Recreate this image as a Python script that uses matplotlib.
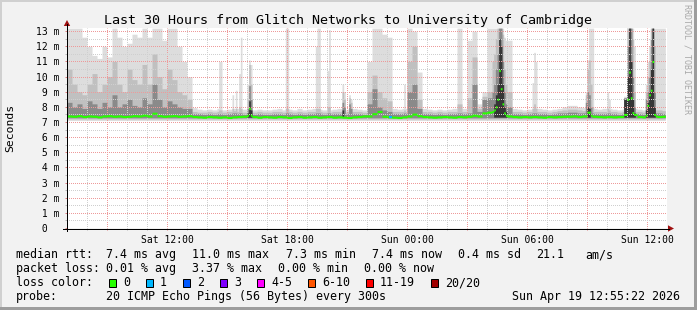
import numpy as np
import matplotlib
matplotlib.use("Agg")
import matplotlib.pyplot as plt
from matplotlib.lines import Line2D
from matplotlib.patches import Rectangle, Polygon

# ---------------- data ----------------
title = "Last 30 Hours from Glitch Networks to University of Cambridge"
start_hour = 7.0            # Sat 07:00 (hours since Sat 00:00)
end_hour = 36 + 55 / 60     # Sun 12:55
step_h = 5 / 60             # 300 s probe step
bin_h = 0.25                # 15 minute bins for the base smoke

x_tick_hours = [12, 18, 24, 30, 36]
x_tick_labels = ["Sat 12:00", "Sat 18:00", "Sun 00:00", "Sun 06:00", "Sun 12:00"]

median_ms = [
    7.40, 7.38, 7.42, 7.36, 7.40, 7.38, 7.34, 7.40, 7.42, 7.38,
    7.40, 7.36, 7.38, 7.42, 7.40, 7.45, 7.40, 7.58, 7.42, 7.38,
    7.40, 7.42, 7.38, 7.40, 7.42, 7.36, 7.34, 7.32, 7.36, 7.34,
    7.32, 7.34, 7.30, 7.34, 7.36, 7.38, 7.34, 7.36, 7.32, 7.36,
    7.34, 7.32, 7.36, 7.34, 7.30, 7.34, 7.36, 7.32, 7.34, 7.36,
    7.32, 7.34, 7.36, 7.32, 7.34, 7.32, 7.30, 7.34, 7.36, 7.40,
    7.40, 7.55, 7.70, 7.38, 7.34, 7.32, 7.30, 7.34, 7.40, 7.52,
    7.42, 7.36, 7.34, 7.32, 7.34, 7.36, 7.34, 7.32, 7.36, 7.34,
    7.38, 7.45, 7.40, 7.60, 7.65, 7.70, 7.80, 7.60, 7.40, 7.36,
    7.34, 7.36, 7.34, 7.36, 7.34, 7.32, 7.36, 7.34, 7.36, 7.38,
    7.38, 7.40, 7.36, 7.40, 7.45, 7.38, 7.36, 7.34, 7.36, 7.34,
    7.36, 7.36, 7.40, 7.50, 7.36, 7.34, 7.60, 7.40, 7.36, 7.38,
]
smoke_top = [
    13.2, 13.2, 13.2, 12.6, 12.0, 11.4, 11.2, 12.0, 11.3, 13.2,
    12.6, 12.0, 12.2, 12.8, 12.6, 13.2, 12.6, 13.2, 13.2, 12.4,
    13.2, 13.2, 12.0, 11.0, 10.0, 7.95, 7.85, 7.8, 7.85, 7.8,
    7.9, 7.8, 7.85, 7.9, 7.9, 7.85, 7.9, 7.8, 7.85, 7.8,
    7.8, 7.85, 7.9, 7.8, 7.85, 7.8, 7.9, 7.8, 7.85, 7.9,
    7.85, 7.8, 7.8, 7.85, 7.9, 7.8, 7.85, 7.9, 7.85, 7.8,
    11.0, 13.2, 13.2, 12.8, 12.6, 7.9, 7.85, 7.9, 13.2, 13.0,
    10.3, 7.9, 7.85, 7.8, 7.85, 7.8, 7.85, 7.9, 13.2, 7.9,
    12.4, 13.0, 8.2, 9.0, 13.2, 13.2, 13.2, 12.6, 12.4, 7.9,
    7.85, 7.8, 7.85, 7.9, 7.9, 7.85, 7.8, 7.85, 7.9, 8.0,
    8.1, 8.1, 8.0, 7.95, 7.9, 7.9, 7.85, 7.9, 7.9, 7.85,
    7.8, 7.85, 7.9, 7.9, 7.85, 7.8, 7.9, 13.2, 13.2, 13.2,
]
smoke_mid = [
    10.5, 9.5, 9.0, 8.8, 9.5, 10.2, 9.0, 9.5, 10.0, 11.0,
    9.5, 9.0, 10.5, 9.8, 9.5, 10.8, 9.5, 11.5, 10.0, 9.2,
    10.5, 9.8, 9.0, 8.8, 8.5, 7.7, 7.65, 7.65, 7.7, 7.65,
    7.7, 7.65, 7.7, 7.75, 7.7, 7.65, 7.7, 7.65, 7.7, 7.65,
    7.65, 7.7, 7.7, 7.65, 7.7, 7.65, 7.7, 7.65, 7.7, 7.7,
    7.7, 7.65, 7.65, 7.7, 7.7, 7.65, 7.7, 7.7, 7.7, 7.65,
    9.0, 10.1, 9.0, 8.6, 8.4, 7.7, 7.7, 7.7, 11.0, 12.0,
    8.5, 7.7, 7.7, 7.65, 7.7, 7.65, 7.7, 7.7, 8.2, 7.7,
    8.6, 11.3, 7.9, 8.7, 9.0, 11.0, 13.2, 10.5, 9.0, 7.7,
    7.7, 7.65, 7.7, 7.7, 7.7, 7.7, 7.65, 7.7, 7.75, 7.8,
    7.85, 7.85, 7.8, 7.75, 7.7, 7.7, 7.7, 7.7, 7.7, 7.7,
    7.65, 7.7, 7.7, 7.7, 7.7, 7.65, 7.7, 7.8, 7.8, 7.75,
]
smoke_dark = [
    8.3, 8.0, 8.2, 7.9, 8.4, 8.2, 7.9, 8.3, 8.0, 8.8,
    8.0, 8.2, 8.5, 8.1, 8.0, 8.6, 8.2, 9.5, 8.5, 8.0,
    8.4, 8.2, 8.0, 7.9, 7.9, 7.55, 7.55, 7.5, 7.55, 7.5,
    7.55, 7.5, 7.55, 7.6, 7.55, 7.5, 7.55, 7.5, 7.55, 7.5,
    7.5, 7.55, 7.55, 7.5, 7.55, 7.5, 7.55, 7.5, 7.55, 7.55,
    7.55, 7.5, 7.5, 7.55, 7.55, 7.5, 7.55, 7.55, 7.55, 7.5,
    8.2, 9.2, 8.0, 7.8, 7.7, 7.55, 7.55, 7.55, 9.0, 9.5,
    7.9, 7.55, 7.55, 7.5, 7.55, 7.5, 7.55, 7.55, 7.6, 7.55,
    7.6, 9.5, 7.7, 8.5, 8.6, 9.0, 12.5, 8.5, 8.0, 7.55,
    7.55, 7.5, 7.55, 7.55, 7.55, 7.55, 7.5, 7.55, 7.6, 7.6,
    7.65, 7.65, 7.6, 7.6, 7.55, 7.55, 7.55, 7.55, 7.55, 7.55,
    7.5, 7.55, 7.55, 7.55, 7.55, 7.5, 7.6, 7.6, 7.6, 7.55,
]
light_floor, mid_floor, dark_floor, core_floor = 7.10, 7.20, 7.28, 7.32

# single 5-minute steps that stand out from the 15-minute base
spike_hours = [14.58, 14.67, 15.25, 15.42, 15.58, 15.67, 16.00, 16.08, 16.17,
               17.92, 18.00, 19.42, 19.50, 19.58, 20.00, 20.08, 20.75, 20.83,
               21.08, 21.17, 23.83,
               28.33, 28.42, 28.50, 28.58, 28.67, 28.75, 28.83, 28.92,
               30.25, 30.33, 30.42, 32.92, 33.00, 33.08, 33.17, 33.25,
               34.00, 34.08, 34.83, 34.92, 35.00, 35.08, 35.17, 35.25, 35.33,
               35.92, 36.00, 36.08, 36.17, 36.25, 36.33]
spike_top = [11.0, 11.0, 8.8, 9.1, 10.2, 12.6, 9.5, 11.1, 10.8,
             13.2, 13.2, 12.0, 13.2, 13.2, 10.4, 13.1, 9.5, 9.0,
             8.8, 8.5, 9.5,
             13.2, 13.2, 13.2, 13.2, 13.2, 13.2, 12.6, 12.4,
             9.6, 11.6, 11.0, 9.0, 11.1, 13.2, 13.2, 13.2,
             9.0, 8.5, 8.7, 8.7, 13.2, 13.2, 13.2, 13.2, 12.0,
             9.5, 11.0, 12.0, 13.2, 13.2, 13.2]
spike_mid = [7.8, 7.8, 7.9, 7.9, 8.0, 7.9, 8.5, 10.8, 9.5,
             7.9, 7.9, 7.9, 7.9, 7.9, 8.0, 8.0, 9.0, 8.5,
             8.6, 8.3, 7.8,
             11.5, 12.5, 13.2, 13.2, 13.2, 12.8, 10.5, 9.5,
             7.9, 8.2, 7.9, 8.8, 10.5, 11.1, 9.5, 8.0,
             7.9, 7.8, 8.6, 8.6, 13.2, 13.2, 13.2, 12.5, 9.0,
             9.0, 10.0, 11.0, 13.2, 13.2, 12.0]
spike_dark = [7.55, 7.55, 7.6, 7.6, 7.6, 7.6, 7.9, 9.4, 8.5,
              7.6, 7.6, 7.6, 7.6, 7.6, 7.6, 7.6, 8.3, 8.0,
              8.2, 7.9, 7.6,
              9.5, 10.5, 11.5, 13.2, 13.2, 11.0, 9.0, 8.2,
              7.6, 7.6, 7.6, 8.3, 9.0, 8.8, 8.0, 7.6,
              7.6, 7.6, 8.6, 8.6, 12.0, 13.2, 13.2, 10.0, 8.0,
              8.5, 9.0, 10.0, 12.5, 13.2, 9.0]
spike_core = [None, None, None, None, None, None, 7.6, 8.4, 7.8,
              None, None, None, None, None, None, None, 7.8, None,
              None, None, None,
              8.2, 8.8, 9.5, 12.5, 12.0, 9.5, 8.0, 7.7,
              None, None, None, None, 8.0, 7.9, None, None,
              None, None, 8.5, 8.5, 10.0, 13.2, 11.0, 8.5, 7.6,
              7.8, 8.3, 9.0, 10.5, 13.2, 8.0]
spike_median = [None, None, None, None, None, None, 7.45, 7.9, 7.45,
                None, None, None, None, None, None, None, None, None,
                None, None, None,
                7.8, 8.0, 8.5, 10.4, 9.2, 8.2, 7.6, 7.45,
                None, None, None, None, 7.65, 7.65, None, None,
                None, None, 7.5, 7.5, 8.5, 10.3, 8.6, 7.62, 7.5,
                7.45, 8.1, 8.8, 9.1, 11.0, 7.5]

loss_hours = [23.08, 23.17]
loss_counts = [1, 1]

loss_labels = ["0", "1", "2", "3", "4-5", "6-10", "11-19", "20/20"]
loss_colors = ["#26ff00", "#00b8ff", "#0059ff", "#7e00ff",
               "#ff00ff", "#ff5500", "#ff0000", "#a10000"]

legend_row1 = [(16, "median rtt:"), (106.5, "7.4 ms avg"), (192.5, "11.0 ms max"),
               (286, "7.3 ms min"), (371.5, "7.4 ms now"), (457.5, "0.4 ms sd"),
               (536, "21.1"), (585.5, "am/s")]
legend_row2 = [(16, "packet loss:"), (106.5, "0.01 % avg"), (192.5, "3.37 % max"),
               (278.5, "0.00 % min"), (364.5, "0.00 % now")]
legend_row4 = [(16, "probe:"), (106.5, "20 ICMP Echo Pings (56 Bytes) every 300s"),
               (512.5, "Sun Apr 19 12:55:22 2026")]

# ---------------- figure ----------------
W, H, DPI = 697, 310, 100
MONO = "DejaVu Sans Mono"
fig = plt.figure(figsize=(W / DPI, H / DPI), dpi=DPI)
fig.patch.set_facecolor("#f2f2f2")


def fx(px):
    return px / W


def fy(py):
    return 1 - py / H


PX = 72 / DPI  # points per pixel

ax = fig.add_axes([fx(67), fy(228), 600 / W, 200 / H])
ax.set_facecolor("white")
ax.set_xlim(start_hour, start_hour + 30)
ax.set_ylim(0, 200 / 15.14)
for s in ax.spines.values():
    s.set_visible(False)

# upsample 15-min bins to 5-min steps
per_bin = int(round(bin_h / step_h))
n_steps = int(round((end_hour - start_hour) / step_h))


def up(a):
    return np.repeat(np.asarray(a, float), per_bin)[:n_steps]


top5, mid5, dark5, med5 = up(smoke_top), up(smoke_mid), up(smoke_dark), up(median_ms)
core5 = np.full(n_steps, core_floor)
for k, h in enumerate(spike_hours):
    j = int(round((h - start_hour) / step_h))
    top5[j] = spike_top[k]
    mid5[j] = spike_mid[k]
    dark5[j] = spike_dark[k]
    if spike_core[k] is not None:
        core5[j] = spike_core[k]
    if spike_median[k] is not None:
        med5[j] = spike_median[k]

edges = start_hour + np.arange(n_steps + 1) * step_h


def ext(a):
    return np.append(a, a[-1])


for floor, arr, col in [(light_floor, top5, "#dddddd"), (mid_floor, mid5, "#c0c0c0"),
                        (dark_floor, dark5, "#8a8a8a"), (core_floor, core5, "#363636")]:
    ax.fill_between(edges, floor, ext(arr), step="post", color=col, lw=0, zorder=1)

mw = 0.07
ax.fill_between(edges, ext(med5) - mw, ext(med5) + mw, step="post",
                color=loss_colors[0], lw=0, zorder=3)
for h, c in zip(loss_hours, loss_counts):
    j = int(round((h - start_hour) / step_h))
    ax.fill_between([edges[j], edges[j + 1]], med5[j] - mw, med5[j] + mw,
                    color=loss_colors[c], lw=0, zorder=3.1)

# grid
ax.set_xticks(np.arange(9, 37, 3))
ax.set_xticks(np.arange(8, 37, 1), minor=True)
ax.set_xticklabels([x_tick_labels[x_tick_hours.index(v)] if v in x_tick_hours else ""
                    for v in np.arange(9, 37, 3)], family=MONO, fontsize=7)
ax.set_yticks(np.arange(0, 14, 1))
ax.set_yticks(np.arange(0.5, 13.5, 1), minor=True)
ax.set_yticklabels([f"{v:2d} m" if v else " 0" for v in range(14)], family=MONO, fontsize=7)
for lab in ax.get_yticklabels():
    lab.set_horizontalalignment("left")
ax.set_axisbelow(False)
ax.grid(which="major", color="#ee9a9a", linestyle=(0.5, (1, 1)), linewidth=PX,
        snap=True, zorder=2.5)
ax.grid(which="minor", color="#cfcfcf", linestyle=(0.5, (1, 1)), linewidth=PX,
        snap=True, zorder=2.4)
ax.tick_params(axis="both", which="both", length=2 * PX, width=PX)
ax.tick_params(axis="both", which="major", color="#e08080")
ax.tick_params(axis="both", which="minor", color="#b8b8b8")
ax.tick_params(axis="x", which="major", pad=3.5)
ax.tick_params(axis="y", which="major", pad=(67 - 2 - 35.5) * PX)

# axis lines with arrows
fig.add_artist(Line2D([fx(67), fx(67)], [fy(231), fy(24)], color="black", lw=PX))
fig.add_artist(Line2D([fx(63), fx(669)], [fy(228.5), fy(228.5)], color="black", lw=PX))
fig.add_artist(Polygon([[fx(63.8), fy(26)], [fx(70.2), fy(26)], [fx(67), fy(20)]],
                       closed=True, color="#a01010", lw=0))
fig.add_artist(Polygon([[fx(668), fy(225.3)], [fx(668), fy(231.7)], [fx(674), fy(228.5)]],
                       closed=True, color="#a01010", lw=0))

# texts
fig.text(fx(348.5), fy(24), title, ha="center", va="baseline", family=MONO, fontsize=9.6)
fig.text(fx(10), fy(128), "Seconds", rotation=90, ha="center", va="center",
         family=MONO, fontsize=8.2)
fig.text(fx(687), fy(4), "RRDTOOL / TOBI OETIKER", rotation=270, ha="center", va="top",
         family=MONO, fontsize=6, color="#a8a8a8")

LEG = 8.4
for base, row in [(258.3, legend_row1), (272.3, legend_row2), (300.2, legend_row4)]:
    for xpx, s in row:
        fig.text(fx(xpx), fy(base), s, ha="left", va="baseline", family=MONO, fontsize=LEG)

fig.text(fx(16), fy(286.3), "loss color:", ha="left", va="baseline", family=MONO, fontsize=LEG)
bx = 108.5
for lab, col in zip(loss_labels, loss_colors):
    fig.add_artist(Rectangle((fx(bx), fy(286.5)), 7.5 / W, 8 / H, facecolor=col,
                             edgecolor="black", lw=PX, transform=fig.transFigure))
    fig.text(fx(bx + 14.5), fy(286.3), lab, ha="left", va="baseline", family=MONO, fontsize=LEG)
    bx += 15 + 7 * len(lab) + 15

# frame shading
fig.add_artist(Rectangle((0, fy(2)), 1, 2 / H, facecolor="#d0d0d0", lw=0, transform=fig.transFigure))
fig.add_artist(Rectangle((0, 0), 2 / W, 1, facecolor="#d0d0d0", lw=0, transform=fig.transFigure))
fig.add_artist(Rectangle((fx(694), 0), 3 / W, 1, facecolor="#9d9d9d", lw=0, transform=fig.transFigure))
fig.add_artist(Rectangle((0, 0), 1, 3 / H, facecolor="#9d9d9d", lw=0, transform=fig.transFigure))

fig.savefig("out.png", dpi=DPI, facecolor=fig.get_facecolor())
